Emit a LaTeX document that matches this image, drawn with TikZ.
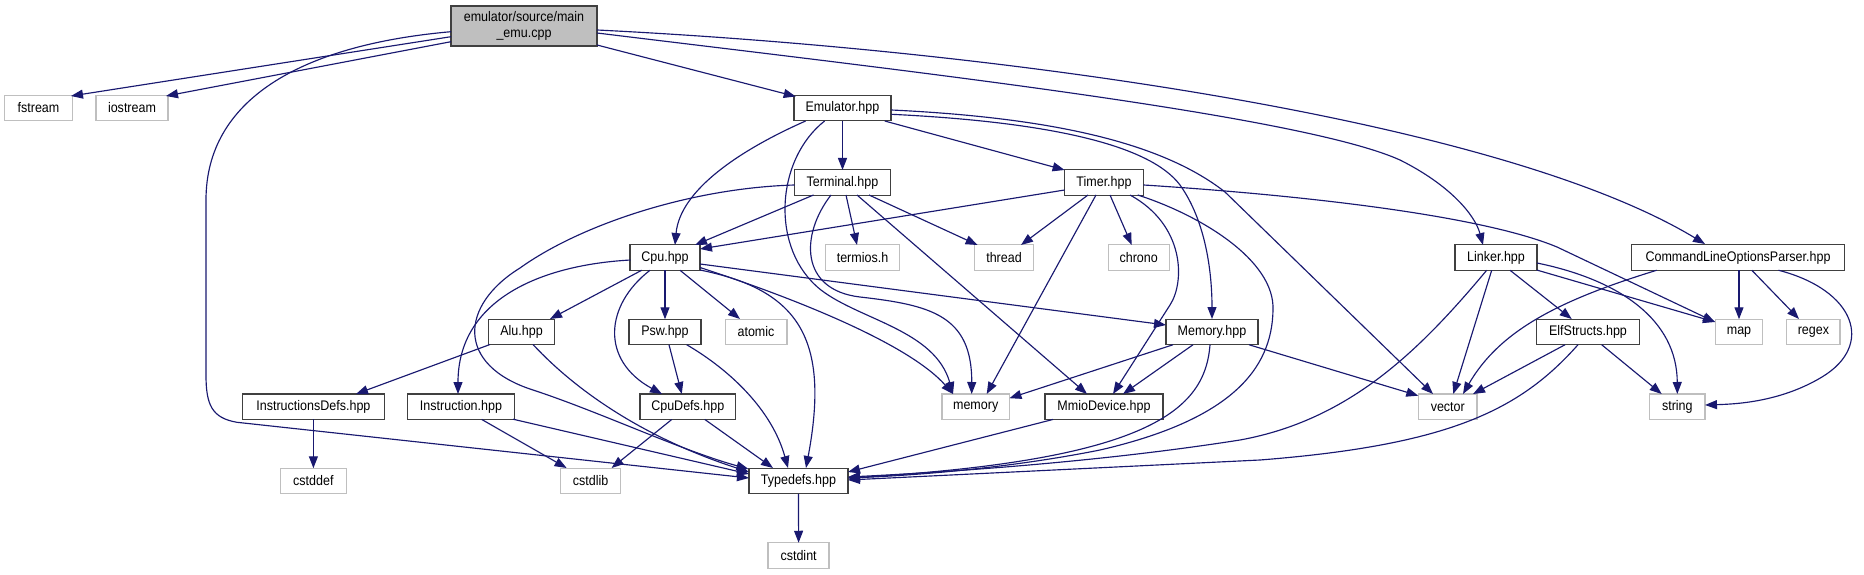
\documentclass[tikz,border=0pt]{standalone}
\usepackage{fontspec}
\setmainfont{Liberation Sans}[FakeStretch=0.9]
\usetikzlibrary{arrows.meta,calc}
\definecolor{edgec}{HTML}{191970}
\definecolor{extc}{HTML}{BFBFBF}
\definecolor{nodec}{HTML}{404040}
\newcommand\fs{\fontsize{13.9}{16}\selectfont}
\tikzset{
  box/.style={draw=nodec, line width=1.4pt, fill=white, inner sep=0pt, minimum height=25.5, font=\fs},
  ext/.style={box, draw=extc},
  e/.style={draw=edgec, line width=1.15pt, -{Triangle[length=12pt,width=9pt]}}
}
\begin{document}
\begin{tikzpicture}[x=1pt,y=-1pt]
\useasboundingbox (0,0) rectangle (1864,575);
% rank 0
\node[box, minimum width=146, minimum height=40, fill=extc, align=center] (main) at (524,26) {emulator/source/main\\\_emu.cpp};
% rank 1
\node[ext, minimum width=68] (fstream) at (38.5,108) {fstream};
\node[ext, minimum width=72] (iostream) at (132,108) {iostream};
\node[box, minimum width=97] (emu) at (842.5,108) {Emulator.hpp};
% rank 2
\node[box, minimum width=96] (term) at (842.5,182.5) {Terminal.hpp};
\node[box, minimum width=79] (timer) at (1104,182.5) {Timer.hpp};
% rank 3
\node[box, minimum width=70] (cpu) at (665,257.5) {Cpu.hpp};
\node[ext, minimum width=74] (termios) at (862.5,257.5) {termios.h};
\node[ext, minimum width=58.6] (thread) at (1004,257.5) {thread};
\node[ext, minimum width=61] (chrono) at (1138.7,257.5) {chrono};
\node[box, minimum width=82] (linker) at (1496,257.5) {Linker.hpp};
\node[box, minimum width=213.5] (clop) at (1738,257.5) {CommandLineOptionsParser.hpp};
% rank 4
\node[box, minimum width=66] (alu) at (521.5,332) {Alu.hpp};
\node[box, minimum width=72] (psw) at (665,332) {Psw.hpp};
\node[ext, minimum width=61.6] (atomic) at (756,332) {atomic};
\node[box, minimum width=92] (memH) at (1212,332) {Memory.hpp};
\node[box, minimum width=103.5] (elf) at (1588,332) {ElfStructs.hpp};
\node[ext, minimum width=46.5] (map) at (1739,332) {map};
\node[ext, minimum width=53.4] (regex) at (1813.4,332) {regex};
% rank 5
\node[box, minimum width=142] (idefs) at (313.4,406.7) {InstructionsDefs.hpp};
\node[box, minimum width=107.5] (instr) at (461,406.7) {Instruction.hpp};
\node[box, minimum width=95.6] (cpudefs) at (687.8,406.7) {CpuDefs.hpp};
\node[ext, minimum width=67.5] (memory) at (975.7,406.7) {memory};
\node[box, minimum width=118] (mmio) at (1104,406.7) {MmioDevice.hpp};
\node[ext, minimum width=58.5] (vector) at (1447.8,406.7) {vector};
\node[ext, minimum width=55.5] (string) at (1677.3,406.7) {string};
% rank 6
\node[ext, minimum width=66] (cstddef) at (313.4,481) {cstddef};
\node[ext, minimum width=60] (cstdlib) at (590.6,481) {cstdlib};
\node[box, minimum width=99] (typedefs) at (798.5,481) {Typedefs.hpp};
% rank 7
\node[ext, minimum width=61] (cstdint) at (798.6,555.5) {cstdint};

% main
\draw[e] ($(main)+(-73,10.7)$) -- ($(fstream)+(32.5,-12)$);
\draw[e] ($(main)+(-73,15.7)$) -- ($(iostream)+(34,-12)$);
\draw[e] ($(main)+(-73,5.7)$) .. controls (300,45) and (206,100) .. (206,200) -- (206,375) .. controls (206,405) and (212,418) .. (237,422.3) -- ($(typedefs)+(-49.5,-3)$);
\draw[e] ($(main)+(73,19)$) -- ($(emu)+(-46.8,-11.5)$);
\draw[e] ($(main)+(73,7)$) .. controls (900,70) and (1300,115) .. (1400,160) .. controls (1450,185) and (1475,215) .. ($(linker)+(-13,-12.5)$);
\draw[e] ($(main)+(73,4)$) .. controls (1000,50) and (1500,120) .. ($(clop)+(-33,-13.5)$);
% emulator
\draw[e] ($(emu)+(-36.9,13)$) .. controls (740,150) and (680,190) .. ($(cpu)+(10,-12.5)$);
\draw[e] ($(emu)+(-17.9,13)$) .. controls (775,160) and (770,250) .. (821,290) .. controls (860,320) and (935,330) .. ($(memory)+(-22.7,-12.7)$);
\draw[e] ($(emu)+(0,12.75)$) -- ($(term)+(0,-12.5)$);
\draw[e] ($(emu)+(42.2,13)$) -- ($(timer)+(-39.4,-12.5)$);
\draw[e] ($(emu)+(48.9,6.3)$) .. controls (1050,122) and (1150,145) .. (1180,185) .. controls (1205,220) and (1212,270) .. ($(memH)+(0,-13)$);
\draw[e] ($(emu)+(48.9,2)$) .. controls (1060,118) and (1165,145) .. (1225,192) -- ($(vector)+(-14.8,-12.7)$);
% terminal
\draw[e] ($(term)+(-29,12.5)$) -- ($(cpu)+(30,-12.5)$);
\draw[e] ($(term)+(-48,2.5)$) .. controls (690,188) and (580,225) .. (520,268) .. controls (460,305) and (455,365) .. (533,390) .. controls (600,412) and (680,450) .. ($(typedefs)+(-50,-12)$);
\draw[e] ($(term)+(-11.5,12.5)$) .. controls (800,235) and (800,290) .. (860,297) .. controls (930,305) and (972,315) .. ($(memory)+(-4,-12.7)$);
\draw[e] ($(term)+(3.5,12.5)$) -- ($(termios)+(-5.5,-12.5)$);
\draw[e] ($(term)+(26.5,12.5)$) -- ($(thread)+(-26.4,-12.5)$);
\draw[e] ($(term)+(14.5,12.5)$) -- ($(mmio)+(-17,-12.7)$);
% timer
\draw[e] ($(timer)+(-39.4,7.5)$) -- ($(cpu)+(35,-8.5)$);
\draw[e] ($(timer)+(-16,12.5)$) -- ($(thread)+(17,-12.5)$);
\draw[e] ($(timer)+(6,12.5)$) -- ($(chrono)+(-7,-12.5)$);
\draw[e] ($(timer)+(-8,12.5)$) -- ($(memory)+(11,-12.7)$);
\draw[e] ($(timer)+(26,12.5)$) .. controls (1185,225) and (1185,282) .. (1170,305) -- ($(mmio)+(9,-12.7)$);
\draw[e] ($(timer)+(33.7,12.5)$) .. controls (1200,215) and (1275,260) .. (1273,310) .. controls (1272,370) and (1230,420) .. (1100,450) .. controls (1000,470) and (900,476) .. ($(typedefs)+(49.5,-3)$);
\draw[e] ($(timer)+(39.7,2.5)$) .. controls (1300,195) and (1480,215) .. (1557,247) -- ($(map)+(-24,-10)$);
% cpu
\draw[e] ($(cpu)+(-23.3,12.75)$) -- ($(alu)+(28.5,-13)$);
\draw[e] ($(cpu)+(-34.5,2.5)$) .. controls (540,265) and (458,300) .. ($(instr)+(-3,-12.7)$);
\draw[e] ($(cpu)+(0,12.75)$) -- ($(psw)+(0,-12.75)$);
\draw[e] ($(cpu)+(-15,12.75)$) .. controls (605,305) and (600,360) .. ($(cpudefs)+(-25.8,-12.7)$);
\draw[e] ($(cpu)+(15,12.75)$) -- ($(atomic)+(-16,-13)$);
\draw[e] ($(cpu)+(35,10)$) .. controls (800,300) and (910,345) .. ($(memory)+(-22.7,-12.7)$);
\draw[e] ($(cpu)+(35,12.5)$) .. controls (800,290) and (830,340) .. ($(typedefs)+(7.5,-13)$);
\draw[e] ($(cpu)+(35,6.5)$) -- ($(memH)+(-46,-7)$);
% alu, psw
\draw[e] ($(alu)+(-31.5,12.5)$) -- ($(idefs)+(42.6,-12.7)$);
\draw[e] ($(alu)+(11.5,12.5)$) .. controls (580,395) and (650,440) .. ($(typedefs)+(-49.5,-9)$);
\draw[e] ($(psw)+(4,12.75)$) -- ($(cpudefs)+(-6,-12.7)$);
\draw[e] ($(psw)+(21.7,12.75)$) .. controls (730,370) and (772,410) .. ($(typedefs)+(-10.5,-13)$);
% rank 5 sources
\draw[e] ($(idefs)+(0,12.75)$) -- ($(cstddef)+(0,-12.75)$);
\draw[e] ($(instr)+(20.7,12.75)$) -- ($(cstdlib)+(-24,-13)$);
\draw[e] ($(instr)+(52,12.5)$) -- ($(typedefs)+(-49.5,-7)$);
\draw[e] ($(cpudefs)+(-16,12.75)$) -- ($(cstdlib)+(21,-13)$);
\draw[e] ($(cpudefs)+(17,12.75)$) -- ($(typedefs)+(-25.5,-13)$);
\draw[e] ($(mmio)+(-51,12.75)$) -- ($(typedefs)+(49.5,-9)$);
% memory.hpp
\draw[e] ($(memH)+(-39,12.75)$) -- ($(memory)+(33.75,-8.5)$);
\draw[e] ($(memH)+(-19,12.75)$) -- ($(mmio)+(19,-12.7)$);
\draw[e] ($(memH)+(-2,12.75)$) .. controls (1205,410) and (1150,460) .. ($(typedefs)+(49.5,-3)$);
\draw[e] ($(memH)+(37,12.75)$) -- ($(vector)+(-29.5,-11)$);
% linker
\draw[e] ($(linker)+(14,12.75)$) -- ($(elf)+(-16.3,-13)$);
\draw[e] ($(linker)+(40.7,12.5)$) -- ($(map)+(-24,-10)$);
\draw[e] ($(linker)+(41,5.5)$) .. controls (1620,280) and (1677,320) .. ($(string)+(0,-12.7)$);
\draw[e] ($(linker)+(-4.3,12.75)$) -- ($(vector)+(5.5,-12.7)$);
\draw[e] ($(linker)+(-9.3,12.75)$) .. controls (1420,350) and (1350,420) .. (1240,440) .. controls (1100,462) and (950,472) .. ($(typedefs)+(49.5,-4)$);
% elfstructs
\draw[e] ($(elf)+(-23,12.75)$) -- ($(vector)+(25.2,-12.7)$);
\draw[e] ($(elf)+(13.7,12.75)$) -- ($(string)+(-15.6,-12.7)$);
\draw[e] ($(elf)+(-10,12.75)$) .. controls (1520,410) and (1450,445) .. (1260,460) -- ($(typedefs)+(49.5,-1)$);
% command line options parser
\draw[e] ($(clop)+(1,12.75)$) -- ($(map)+(0,-12.75)$);
\draw[e] ($(clop)+(13.8,12.75)$) -- ($(regex)+(-14.4,-13)$);
\draw[e] ($(clop)+(40.5,12.75)$) .. controls (1855,290) and (1875,345) .. (1822,377) .. controls (1782,401) and (1740,404) .. ($(string)+(27.7,-1.7)$);
\draw[e] ($(clop)+(-81.3,12.75)$) .. controls (1560,300) and (1500,330) .. ($(vector)+(15.2,-12.7)$);
% typedefs
\draw[e] ($(typedefs)+(0,12.75)$) -- ($(cstdint)+(0,-12.75)$);
\end{tikzpicture}
\end{document}
